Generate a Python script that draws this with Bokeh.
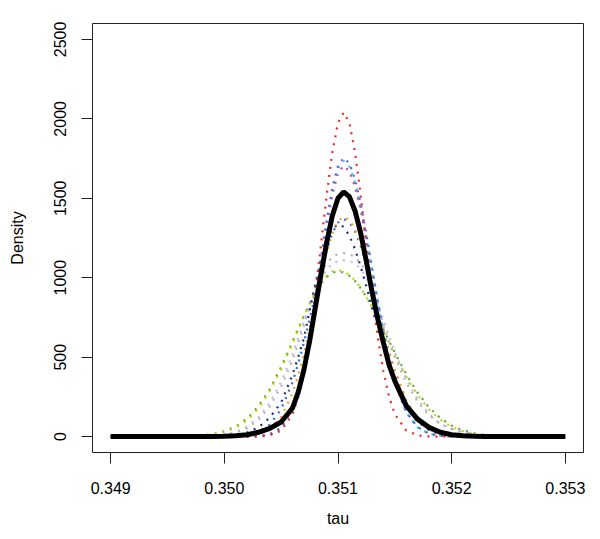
from bokeh.plotting import figure
from bokeh.models import Range1d, FixedTicker, NumeralTickFormatter
from bokeh.embed import file_html
from bokeh.resources import INLINE

# ---- data ----
tau = [0.3490, 0.3495, 0.3497, 0.3498, 0.3499, 0.3500, 0.3501, 0.3502, 0.3503, 0.3504,
       0.3505, 0.3506, 0.35065, 0.3507, 0.35075, 0.3508, 0.35085, 0.3509, 0.35095, 0.3510,
       0.35105, 0.3511, 0.35115, 0.3512, 0.35125, 0.3513, 0.35135, 0.3514, 0.35145, 0.3515,
       0.3516, 0.3517, 0.3518, 0.3519, 0.3520, 0.3521, 0.3522, 0.3523, 0.3524, 0.3525,
       0.3527, 0.3530]

dens_red = [0, 0, 0, 0, 0, 0, 0, 0, 1, 8,
            38, 141, 249, 408, 624, 898, 1205, 1518, 1789, 1975,
            2040, 1975, 1789, 1518, 1205, 898, 624, 408, 249, 141,
            38, 8, 1, 0, 0, 0, 0, 0, 0, 0,
            0, 0]
dens_violet = [0, 0, 0, 0, 0, 0, 0, 1, 3, 14,
               56, 177, 286, 437, 632, 863, 1116, 1360, 1567, 1706,
               1755, 1720, 1620, 1465, 1274, 1064, 855, 658, 488, 347,
               156, 60, 19, 5, 1, 0, 0, 0, 0, 0,
               0, 0]
dens_cyan = [0, 0, 0, 0, 0, 0, 0, 1, 3, 14,
             55, 175, 283, 432, 625, 853, 1103, 1345, 1549, 1687,
             1735, 1700, 1601, 1449, 1260, 1052, 845, 651, 482, 343,
             154, 59, 19, 5, 1, 0, 0, 0, 0, 0,
             0, 0]
dens_magenta = [0, 0, 0, 0, 0, 0, 0, 1, 3, 14,
                54, 172, 278, 425, 614, 838, 1084, 1321, 1522, 1657,
                1705, 1671, 1573, 1423, 1238, 1034, 831, 639, 474, 337,
                152, 58, 18, 5, 1, 0, 0, 0, 0, 0,
                0, 0]
dens_orange = [0, 0, 0, 0, 0, 0, 1, 4, 15, 47,
               123, 274, 385, 519, 674, 840, 1006, 1156, 1278, 1357,
               1385, 1364, 1305, 1212, 1091, 956, 812, 669, 535, 416,
               229, 112, 48, 19, 7, 2, 1, 0, 0, 0,
               0, 0]
dens_blue = [0, 0, 0, 0, 0, 1, 3, 10, 29, 75,
             173, 341, 458, 592, 738, 892, 1041, 1174, 1280, 1347,
             1370, 1349, 1291, 1199, 1080, 945, 803, 662, 529, 411,
             226, 111, 48, 19, 6, 2, 1, 0, 0, 0,
             0, 0]
dens_navy = [0, 0, 0, 1, 2, 4, 10, 25, 58, 120,
             215, 390, 500, 620, 790, 960, 1110, 1230, 1310, 1335,
             1320, 1265, 1180, 1070, 945, 810, 680, 555, 440, 340,
             190, 95, 42, 17, 6, 2, 1, 0, 0, 0,
             0, 0]
dens_gray = [0, 0, 0, 1, 4, 10, 24, 52, 105, 190,
             315, 480, 590, 700, 820, 940, 1030, 1090, 1130, 1150,
             1155, 1150, 1130, 1090, 1030, 940, 830, 700, 590, 500,
             340, 220, 135, 80, 50, 28, 14, 6, 2, 1,
             0, 0]
dens_lavender = [0, 0, 0, 2, 5, 12, 29, 62, 120, 212,
                 345, 515, 620, 725, 830, 925, 998, 1052, 1088, 1106,
                 1110, 1106, 1090, 1055, 1000, 928, 840, 735, 630, 530,
                 365, 235, 142, 82, 45, 23, 11, 5, 2, 1,
                 0, 0]
dens_green = [0, 0, 3, 7, 16, 33, 63, 113, 191, 299,
              438, 598, 680, 761, 837, 906, 962, 1005, 1031, 1040,
              1033, 1012, 979, 933, 879, 815, 747, 675, 601, 528,
              393, 277, 184, 117, 69, 39, 21, 11, 5, 2,
              0, 0]
dens_yellowgreen = [0, 0, 2, 6, 13, 28, 56, 103, 178, 285,
                    425, 588, 672, 757, 836, 908, 966, 1012, 1040, 1048,
                    1040, 1018, 983, 935, 878, 812, 740, 665, 590, 515,
                    378, 262, 171, 106, 62, 34, 17, 8, 4, 2,
                    0, 0]
dens_combined = [0, 0, 0, 0, 1, 2, 5, 12, 27, 52,
                 92, 180, 280, 420, 600, 810, 1020, 1220, 1390, 1500,
                 1540, 1510, 1420, 1280, 1100, 910, 740, 590, 450, 350,
                 195, 110, 58, 27, 12, 5, 2, 1, 0, 0,
                 0, 0]

x_ticks = [0.349, 0.350, 0.351, 0.352, 0.353]
y_ticks = [0, 500, 1000, 1500, 2000, 2500]

# ---- styles ----
dotted = [
    (dens_green, "#4CAF30"),
    (dens_yellowgreen, "#C2D400"),
    (dens_lavender, "#C8B8DC"),
    (dens_gray, "#B4B4B4"),
    (dens_navy, "#1C2C86"),
    (dens_blue, "#2F6FDA"),
    (dens_orange, "#F2A228"),
    (dens_magenta, "#E03A8C"),
    (dens_cyan, "#2CC8EA"),
    (dens_violet, "#6464E6"),
    (dens_red, "#F02828"),
]

FONT = "Liberation Sans"

p = figure(output_backend="svg", toolbar_location=None,
           frame_width=491, frame_height=429,
           min_border_left=92, min_border_right=9,
           min_border_top=23, min_border_bottom=79,
           x_range=Range1d(0.34884, 0.35316), y_range=Range1d(-100, 2600),
           background_fill_color="white", border_fill_color="white")

for ys, col in dotted:
    p.line(tau, ys, line_color=col, line_width=2.2, line_dash="2 6")
p.line(tau, dens_combined, line_color="black", line_width=5)

p.grid.visible = False
p.outline_line_color = "#222222"
p.outline_line_width = 1

for ax in (p.xaxis[0], p.yaxis[0]):
    ax.axis_line_color = None
    ax.major_tick_line_color = "#222222"
    ax.major_tick_out = 11
    ax.major_tick_in = 0
    ax.minor_tick_line_color = None
    ax.major_label_text_font = FONT
    ax.major_label_text_font_size = "16px"
    ax.major_label_text_color = "black"
    ax.axis_label_text_font = FONT
    ax.axis_label_text_font_size = "16px"
    ax.axis_label_text_font_style = "normal"
    ax.axis_label_text_color = "black"

p.xaxis.ticker = FixedTicker(ticks=x_ticks)
p.yaxis.ticker = FixedTicker(ticks=y_ticks)
p.xaxis.formatter = NumeralTickFormatter(format="0.000")
p.yaxis.formatter = NumeralTickFormatter(format="0")
p.yaxis.major_label_orientation = "vertical"
p.xaxis.axis_label = "tau"
p.yaxis.axis_label = "Density"
p.xaxis.major_label_standoff = 18
p.yaxis.major_label_standoff = 15
p.xaxis.axis_label_standoff = 13
p.yaxis.axis_label_standoff = 26

open("out.html", "w").write(file_html(p, INLINE))
